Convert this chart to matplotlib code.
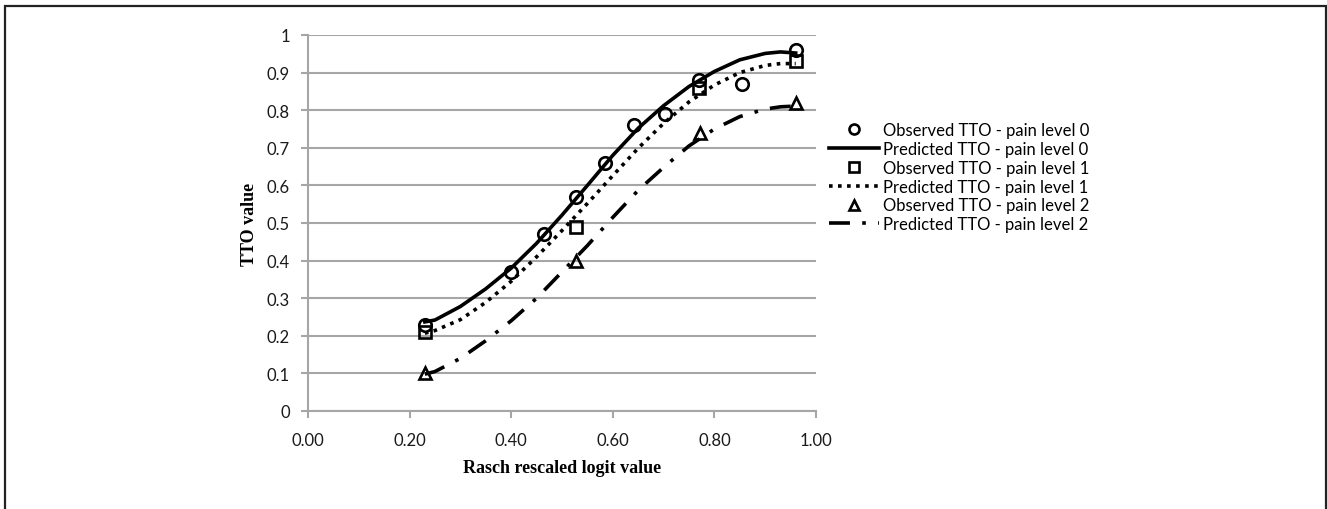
import matplotlib
matplotlib.use("Agg")
import matplotlib.pyplot as plt
from matplotlib.patches import Rectangle

obs0_x = [0.23, 0.40, 0.465, 0.527, 0.584, 0.642, 0.703, 0.77, 0.854, 0.961]
obs0_y = [0.23, 0.37, 0.47, 0.57, 0.66, 0.76, 0.79, 0.88, 0.87, 0.96]
obs1_x = [0.23, 0.527, 0.77, 0.961]
obs1_y = [0.21, 0.49, 0.86, 0.93]
obs2_x = [0.23, 0.527, 0.771, 0.961]
obs2_y = [0.10, 0.40, 0.74, 0.82]

# Predicted curves, sampled by eye along each line
pred_x = [0.23, 0.25, 0.30, 0.35, 0.40, 0.45, 0.50, 0.55, 0.60, 0.65, 0.70, 0.75, 0.80, 0.85, 0.90, 0.93, 0.96]
pred0_y = [0.237, 0.242, 0.278, 0.325, 0.380, 0.446, 0.521, 0.600, 0.680, 0.752, 0.812, 0.863, 0.903, 0.934, 0.951, 0.955, 0.952]
pred1_y = [0.207, 0.214, 0.243, 0.289, 0.345, 0.410, 0.480, 0.552, 0.626, 0.699, 0.765, 0.822, 0.867, 0.900, 0.919, 0.924, 0.924]
pred2_y = [0.098, 0.105, 0.140, 0.187, 0.240, 0.300, 0.370, 0.440, 0.515, 0.587, 0.648, 0.705, 0.750, 0.783, 0.803, 0.809, 0.811]

x_ticks = [0.0, 0.2, 0.4, 0.6, 0.8, 1.0]
y_ticks = [0, 0.1, 0.2, 0.3, 0.4, 0.5, 0.6, 0.7, 0.8, 0.9, 1]

labels = ["Observed TTO - pain level 0", "Predicted TTO - pain level 0",
          "Observed TTO - pain level 1", "Predicted TTO - pain level 1",
          "Observed TTO - pain level 2", "Predicted TTO - pain level 2"]

W, H = 1327, 510
fig = plt.figure(figsize=(W / 100, H / 100), dpi=100)
ax = fig.add_axes([308 / W, 1 - 412 / H, (816 - 308) / W, (412 - 36) / H])

grid_col = "#a6a6a6"
tick_font = "Lato"

mk = dict(linestyle="none", markerfacecolor="none", markeredgecolor="black",
          markeredgewidth=1.9, markersize=9)
h_o0, = ax.plot(obs0_x, obs0_y, marker="o", **mk)
h_p0, = ax.plot(pred_x, pred0_y, color="black", lw=2.6, linestyle="-")
h_o1, = ax.plot(obs1_x, obs1_y, marker="s", **mk)
h_p1, = ax.plot(pred_x, pred1_y, color="black", lw=2.6, linestyle=(0, (1, 1.5)))
h_o2, = ax.plot(obs2_x, obs2_y, marker="^", **mk)
h_p2, = ax.plot(pred_x, pred2_y, color="black", lw=2.6, linestyle=(0, (5.8, 3.4, 1, 3.4)))

ax.set_xlim(0, 1)
ax.set_ylim(0, 1)
ax.set_xticks(x_ticks)
ax.set_xticklabels([f"{v:.2f}" for v in x_ticks], fontsize=12, family=tick_font)
ax.set_yticks(y_ticks)
ax.set_yticklabels([f"{v:g}" for v in y_ticks], fontsize=12, family=tick_font)
ax.yaxis.grid(True, color=grid_col, lw=1.5)
ax.set_axisbelow(True)
for s in ["top", "right"]:
    ax.spines[s].set_visible(False)
for s in ["left", "bottom"]:
    ax.spines[s].set_color(grid_col)
    ax.spines[s].set_linewidth(1.5)
ax.tick_params(axis="both", colors=grid_col, width=1.5, length=5, labelcolor="#1a1a1a")
ax.tick_params(axis="y", pad=8)
ax.tick_params(axis="x", pad=10)

ax.set_xlabel("Rasch rescaled logit value", family="Liberation Serif",
              fontweight="bold", fontsize=13, labelpad=8)
ax.set_ylabel("TTO value", family="Liberation Serif",
              fontweight="bold", fontsize=13, labelpad=6)

fig.legend([h_o0, h_p0, h_o1, h_p1, h_o2, h_p2], labels,
           loc="upper left", bbox_to_anchor=(829 / W, 1 - 123 / H),
           frameon=False, prop={"family": tick_font, "size": 12},
           handlelength=3.0, handletextpad=0.25, labelspacing=0.17,
           markerscale=0.8, borderaxespad=0, borderpad=0)

# thin frame round the figure
fig.patches.append(Rectangle((4.5 / W, -0.02), (1325.5 - 4.5) / W, 1.02 - 6.5 / H,
                             transform=fig.transFigure, fill=False,
                             edgecolor="#222222", lw=1.6))

fig.savefig("out.png", dpi=100)
